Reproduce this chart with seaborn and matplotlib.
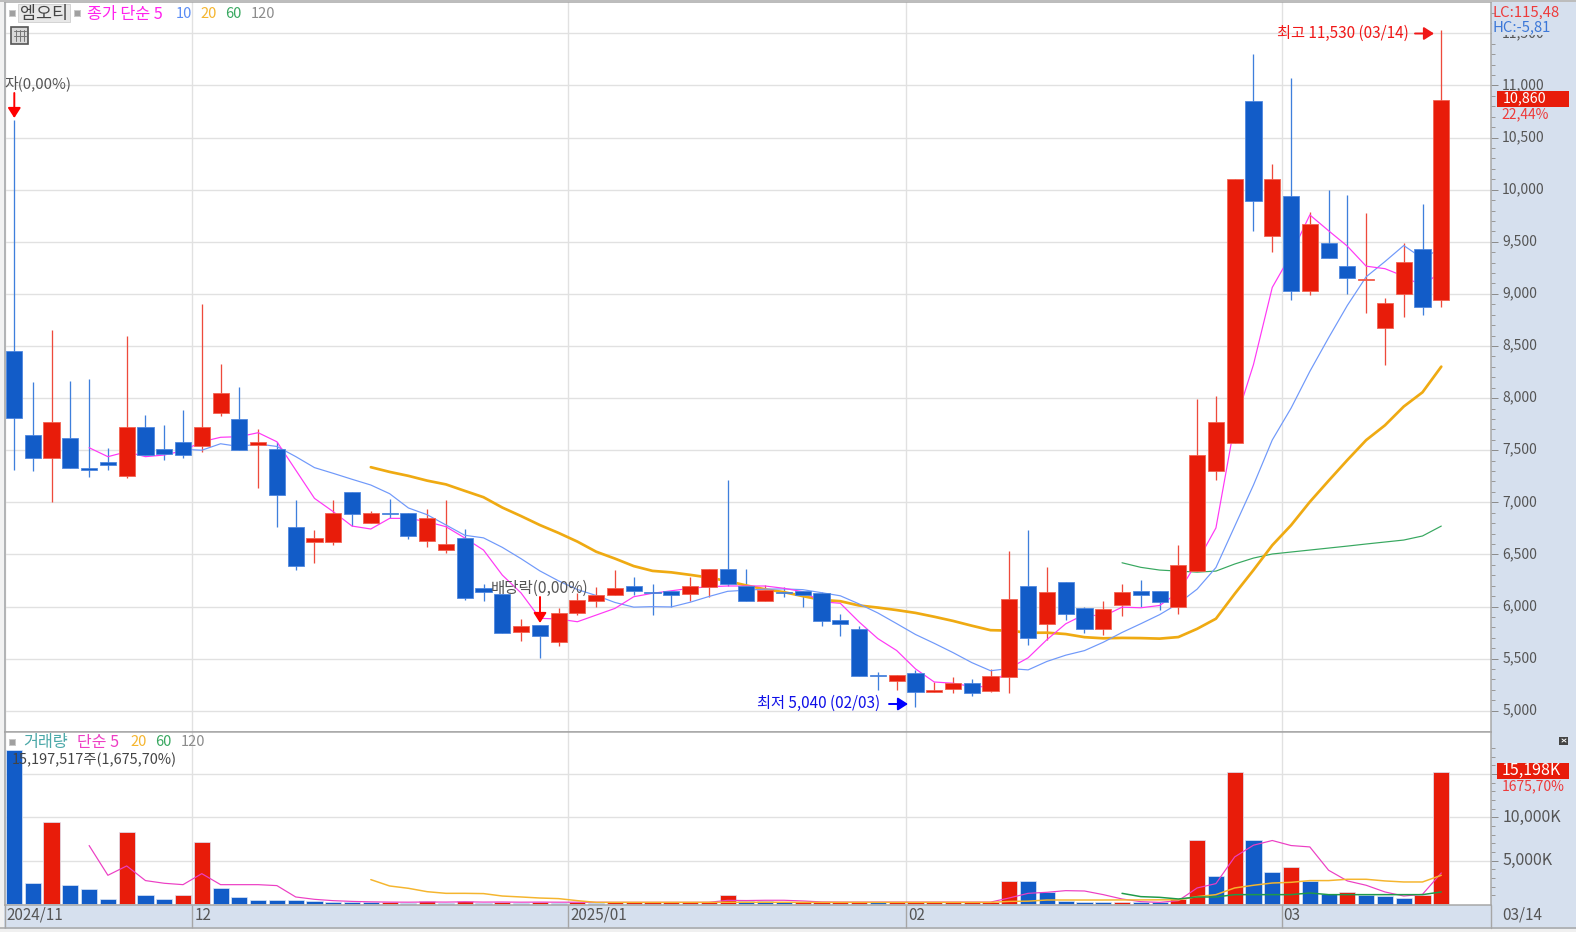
import numpy as np
import seaborn as sns
from matplotlib import pyplot as plt
from matplotlib.patches import Rectangle
from matplotlib.transforms import ScaledTranslation

# daily candles (won)
OPEN = [8450, 7650, 7430, 7620, 7330, 7390, 7250, 7720, 7510, 7580,
        7540, 7860, 7800, 7550, 7510, 6760, 6620, 6620, 7100, 6800,
        6900, 6900, 6630, 6540, 6660, 6180, 6120, 5760, 5820, 5660,
        5940, 6050, 6110, 6200, 6140, 6150, 6120, 6190, 6360, 6200,
        6050, 6140, 6150, 6130, 5870, 5780, 5340, 5290, 5360, 5180,
        5210, 5270, 5190, 5320, 6200, 5830, 6240, 5990, 5780, 6010,
        6150, 6150, 6000, 6340, 7300, 7570, 10850, 9560, 9940, 9030,
        9490, 9270, 9130, 8670, 9000, 9430, 8940]
CLOSE = [7810, 7430, 7770, 7330, 7310, 7360, 7720, 7450, 7460, 7450,
         7720, 8050, 7500, 7580, 7070, 6390, 6660, 6900, 6890, 6900,
         6890, 6680, 6850, 6600, 6080, 6140, 5750, 5810, 5720, 5940,
         6060, 6110, 6180, 6150, 6130, 6110, 6200, 6360, 6220, 6050,
         6160, 6130, 6110, 5860, 5830, 5330, 5330, 5340, 5180, 5200,
         5270, 5170, 5330, 6070, 5700, 6140, 5930, 5780, 5980, 6140,
         6110, 6040, 6400, 7450, 7770, 10100, 9890, 10100, 9030, 9670,
         9340, 9150, 9140, 8910, 9310, 8870, 10860]
HIGH = [10670, 8150, 8650, 8160, 8180, 7520, 8600, 7840, 7740, 7890,
        8900, 8330, 8110, 7700, 7580, 7020, 6730, 7020, 7100, 6920,
        7030, 6900, 6940, 7020, 6740, 6220, 6120, 5880, 5820, 5990,
        6130, 6190, 6350, 6280, 6220, 6150, 6280, 6360, 7210, 6360,
        6210, 6190, 6150, 6140, 5930, 5810, 5370, 5340, 5390, 5280,
        5320, 5300, 5400, 6530, 6730, 6380, 6240, 6000, 6050, 6220,
        6250, 6150, 6590, 7990, 8020, 10100, 11300, 10250, 11070, 9790,
        10000, 9950, 9780, 8960, 9490, 9860, 11530]
LOW = [7310, 7300, 7000, 7330, 7240, 7310, 7230, 7450, 7410, 7430,
       7480, 7830, 7500, 7140, 6760, 6350, 6420, 6590, 6770, 6800,
       6850, 6650, 6570, 6510, 6060, 6050, 5750, 5670, 5510, 5620,
       5920, 6000, 6110, 6110, 5920, 6000, 6050, 6090, 6200, 6050,
       6050, 6090, 6000, 5810, 5720, 5330, 5200, 5200, 5040, 5180,
       5170, 5140, 5180, 5170, 5630, 5680, 5870, 5750, 5730, 5910,
       6000, 5970, 5930, 6340, 7210, 7570, 9600, 9400, 8940, 8990,
       9340, 9000, 8820, 8320, 8780, 8800, 8870]

# price moving averages, first value sits on the day in the *_START name
MA5_START = 4
MA5 = [7524, 7438, 7485, 7438, 7454, 7495, 7581, 7624, 7630, 7668, 7581, 7310,
       7038, 6910, 6772, 6744, 6846, 6846, 6814, 6766, 6658, 6542, 6302, 6130,
       5887, 5880, 5854, 5918, 5982, 6094, 6127, 6151, 6175, 6190, 6197, 6197,
       6197, 6175, 6142, 6046, 6031, 5852, 5692, 5578, 5402, 5276, 5264, 5232,
       5230, 5408, 5508, 5682, 5834, 5924, 5906, 5994, 5988, 6010, 6134, 6428,
       6754, 7752, 8322, 9062, 9378, 9758, 9606, 9458, 9266, 9242, 9170, 9076,
       9218]
MA10_START = 9
MA10 = [7509, 7500, 7562, 7535, 7560, 7536, 7439, 7333, 7278, 7221, 7166, 7083,
        6946, 6881, 6783, 6684, 6659, 6568, 6459, 6342, 6246, 6163, 6106, 6039,
        5994, 5999, 5996, 6041, 6096, 6146, 6157, 6167, 6169, 6162, 6133, 6103,
        6025, 5938, 5836, 5732, 5647, 5558, 5462, 5384, 5405, 5392, 5473, 5533,
        5577, 5657, 5751, 5835, 5922, 6029, 6167, 6374, 6770, 7166, 7598, 7903,
        8256, 8579, 8890, 9164, 9310, 9464, 9341, 9438]
MA20_START = 19
MA20 = [7337, 7292, 7254, 7208, 7172, 7110, 7049, 6950, 6868, 6782, 6706, 6623,
        6526, 6460, 6388, 6342, 6328, 6304, 6278, 6244, 6202, 6165, 6138, 6100,
        6064, 6051, 6010, 5990, 5966, 5939, 5902, 5862, 5816, 5773, 5769, 5748,
        5749, 5736, 5706, 5695, 5699, 5697, 5692, 5707, 5786, 5883, 6122, 6350,
        6588, 6780, 7004, 7207, 7406, 7597, 7739, 7919, 8056, 8302]
MA60_START = 59
MA60 = [6420, 6376, 6350, 6340, 6330, 6340, 6408, 6465, 6504, 6523, 6542, 6561,
        6580, 6600, 6619, 6638, 6677, 6772]

# volume in thousands of shares
VOLUME = [17750, 2460, 9510, 2160, 1730, 580, 8350, 1000, 580, 1000,
          7200, 1850, 850, 424, 415, 405, 290, 270, 230, 200,
          250, 170, 390, 170, 400, 170, 210, 160, 210, 160,
          230, 170, 175, 180, 185, 190, 195, 200, 1040, 350,
          300, 250, 260, 265, 270, 275, 200, 205, 210, 215,
          220, 225, 230, 2700, 2690, 1350, 390, 270, 250, 280,
          260, 240, 580, 7350, 3200, 15200, 7350, 3730, 4310, 2620,
          1120, 1420, 1080, 880, 690, 1000, 15198]
VMA5_START = 4
VMA5 = [6740, 3310, 4390, 2700, 2390, 2230, 3500, 2230, 2230, 2230, 2120, 810,
        540, 385, 300, 250, 220, 210, 230, 220, 250, 220, 230, 210, 220, 210,
        210, 200, 190, 190, 190, 190, 190, 200, 420, 400, 430, 430, 350, 240,
        220, 220, 220, 220, 220, 220, 220, 220, 220, 700, 1230, 1350, 1540, 1500,
        1080, 580, 270, 190, 385, 1850, 2350, 5430, 6780, 7320, 6740, 6580, 3890,
        2660, 2160, 1390, 920, 1120, 3580]
VMA20_START = 19
VMA20 = [2810, 2080, 1810, 1420, 1230, 1230, 1200, 920, 810, 690, 620, 385,
         190, 190, 190, 190, 190, 190, 190, 200, 200, 200, 200, 190, 190, 190,
         190, 190, 190, 190, 190, 190, 190, 190, 300, 330, 460, 460, 460, 460,
         470, 470, 480, 480, 850, 1080, 1850, 2160, 2420, 2500, 2700, 2700, 2850,
         2850, 2660, 2540, 2540, 3310]
VMA60_START = 59
VMA60 = [1230, 850, 770, 580, 810, 810, 1080, 1080, 1080, 1080, 1270, 1080,
         1080, 1080, 1080, 1080, 1080, 1390]

PRICE_TICKS = [5000, 5500, 6000, 6500, 7000, 7500, 8000, 8500, 9000, 9500,
               10000, 10500, 11000, 11500]
VOLUME_TICKS = [5000, 10000, 15000]
MONTH_POS = [-0.5, 9.5, 29.5, 47.5, 67.5]
MONTH_LABELS = ["2024/11", "12", "2025/01", "02", "03"]

W, H = 1576, 932
RED, BLUE = "#E81C0A", "#125CC8"
RED_WICK, BLUE_WICK = "#EE4A3C", "#3E7FDC"
STRIP = "#D6E0EE"
GRID = "#E1E1E1"
TEXT = "#555555"
FRAME = "#A6A6A6"
PX = 0.72  # one pixel in points at dpi 100

sns.set_theme(style="white")
plt.rcParams["font.family"] = ["Noto Sans CJK KR", "DejaVu Sans"]


def pane(top, bottom):
    left, right = 4.5, 1491
    rect = [left / W, 1 - bottom / H, (right - left) / W, (bottom - top) / H]
    ax = fig.add_axes(rect)
    # candle i is centred on 14 + 18.78 * i pixels
    ax.set_xlim((left - 14) / 18.78, (right - 14) / 18.78)
    for spine in ax.spines.values():
        spine.set_color(FRAME)
        spine.set_linewidth(1.5 * PX)
    ax.yaxis.tick_right()
    ax.set_xticks(MONTH_POS)
    ax.grid(True, color=GRID, lw=1.4 * PX, zorder=0)
    ax.set_axisbelow(True)
    return ax


def moving_average(ax, start, values, color, width, zorder):
    days = np.arange(start, start + len(values))
    sns.lineplot(x=days, y=values, color=color, lw=width * PX, ax=ax,
                 zorder=zorder, errorbar=None)


def right_ticks(ax, ticks, labels, minor, size):
    ax.set_yticks(ticks, labels)
    ax.set_yticks(minor, minor=True)
    ax.tick_params(axis="y", which="major", length=7 * PX, width=PX, color="#8C8C8C",
                   labelsize=size, labelcolor=TEXT, pad=3, right=True)
    ax.tick_params(axis="y", which="minor", length=3.5 * PX, width=PX, color="#9A9A9A",
                   right=True)
    # the terminal prints its labels a little above the tick
    lift = ScaledTranslation(0, 2 / 100, fig.dpi_scale_trans)
    for tick_label in ax.get_yticklabels():
        tick_label.set_transform(tick_label.get_transform() + lift)


fig = plt.figure(figsize=(W / 100, H / 100), dpi=100, facecolor=STRIP)

# price pane
ax = pane(2, 732)
ax.set_ylim(4796, 11801)
days = np.arange(len(OPEN))
opens, closes = np.array(OPEN), np.array(CLOSE)
up = closes > opens
ax.vlines(days, LOW, HIGH, colors=np.where(up, RED_WICK, BLUE_WICK), lw=1.3 * PX, zorder=2)
moving_average(ax, MA60_START, MA60, "#38A860", 1.2, 3)
moving_average(ax, MA20_START, MA20, "#EFAA12", 2.7, 3)
moving_average(ax, MA10_START, MA10, "#7099FA", 1.2, 3)
moving_average(ax, MA5_START, MA5, "#FF38F5", 1.2, 3)
ax.bar(days, np.abs(closes - opens), bottom=np.minimum(opens, closes), width=0.86,
       color=np.where(up, RED, BLUE), edgecolor=np.where(up, "#F2604F", "#4C86DE"),
       linewidth=0.8 * PX, zorder=4)
right_ticks(ax, PRICE_TICKS, [f"{t:,}" for t in PRICE_TICKS], np.arange(5000, 11800, 100), 10)
ax.tick_params(axis="x", length=0, labelbottom=False)

# volume pane
vax = pane(732, 905)
vax.set_ylim(-115, 19830)
vol = np.array(VOLUME)
rising = np.r_[False, vol[1:] > vol[:-1]]
sns.barplot(x=days, y=vol, hue=rising, palette={True: RED, False: BLUE}, dodge=False,
            native_scale=True, width=0.86, legend=False, ax=vax, zorder=2, saturation=1,
            edgecolor="#DCE6F6", linewidth=0.7 * PX)
moving_average(vax, VMA5_START, VMA5, "#EC3FC4", 1.2, 3)
moving_average(vax, VMA20_START, VMA20, "#F5B52E", 1.5, 4)
moving_average(vax, VMA60_START, VMA60, "#1F9A4A", 1.5, 5)
vax.set_xlim((4.5 - 14) / 18.78, (1491 - 14) / 18.78)
vax.set_xlabel("")
vax.set_ylabel("")
right_ticks(vax, VOLUME_TICKS, ["5,000K", "10,000K", ""], np.arange(1000, 19000, 1000), 11.5)
vax.set_xticks(MONTH_POS, [""] * len(MONTH_POS))
vax.tick_params(axis="x", direction="out", length=23 * PX, width=1.4 * PX, color=FRAME, bottom=True)
for pos, label_text in zip(MONTH_POS, MONTH_LABELS):
    vax.annotate(label_text, xy=(pos, 0), xycoords=("data", "axes fraction"), xytext=(2, -10),
                 textcoords="offset pixels", ha="left", va="center", fontsize=11, color=TEXT)

# screen furniture in pixel coordinates
ui = fig.add_axes([0, 0, 1, 1], zorder=10)
ui.set_xlim(0, W)
ui.set_ylim(H, 0)
ui.axis("off")
ui.add_patch(Rectangle((0, 0), 4, H, color="#F2F2F2", lw=0))
ui.add_patch(Rectangle((0, 0), W, 2, color="#BDBDBD", lw=0))
ui.add_patch(Rectangle((0, 929), W, 3, color="#F0F0F0", lw=0))
ui.plot([0, W], [928, 928], color=FRAME, lw=1.5 * PX)
ui.plot([1491, 1491], [905, 928], color=FRAME, lw=1.4 * PX)


def label(x, y, text, color=TEXT, size=11, ha="left", **kw):
    # CJK metrics sit high with va=center, hence the extra pixel
    ui.text(x, y + 1, text, color=color, fontsize=size, ha=ha, va="center", **kw)


def arrow(x0, y0, x1, y1, color):
    ui.annotate("", xy=(x1, y1), xytext=(x0, y0),
                arrowprops=dict(arrowstyle="-|>,head_width=0.32,head_length=0.5",
                                color=color, lw=1.4, shrinkA=0, shrinkB=0))


def square(x, y):
    ui.add_patch(Rectangle((x - 3, y - 3), 6, 6, facecolor="#A0A0A0", edgecolor="#C8C8C8", lw=PX))


# price header
square(12, 13)
ui.add_patch(Rectangle((18, 4), 52, 18, facecolor="#E8E8E8", edgecolor="#D4D4D4", lw=PX))
label(44, 12.5, "엠오티", ha="center", color="#444444", size=12.5)
square(77, 13)
label(87, 13, "종가 단순 5", "#FF22EE", size=11.7)
label(176, 13, "10", "#5A8CF5", size=10.5)
label(200, 13, "20", "#F5B52E", size=10.5)
label(225, 13, "60", "#38A860", size=10.5)
label(251, 13, "120", "#8C8C8C", size=10.5)
ui.add_patch(Rectangle((11.5, 26.5), 17, 17, facecolor="#D8D8D8", edgecolor="#555555", lw=1.2))
for gx in [16, 20, 24]:
    ui.plot([gx, gx], [30, 41], color="#777777", lw=PX)
for gy in [31, 36]:
    ui.plot([14, 26], [gy, gy], color="#777777", lw=PX)

# event marks
label(4, 82, "자(0,00%)", "#555555", size=10.8)
arrow(14.3, 93, 14.3, 118, "#FF0000")
label(491, 587, "배당락(0,00%)", "#555555", size=11.2)
arrow(540, 597, 540, 623, "#FF0000")
label(1277, 32.5, "최고 11,530 (03/14)", "#F01818")
arrow(1415, 33.5, 1434, 33.5, "#F01818")
label(757, 702.5, "최저 5,040 (02/03)", "#1010E8")
arrow(889, 704, 908, 704, "#0000FF")

# right strip read-outs
label(1493, 11, "LC:115,48", "#EE3A3A", size=10.7)
label(1493, 26, "HC:-5,81", "#3C78D8", size=10.7,
      bbox=dict(facecolor=STRIP, edgecolor="none", pad=1))
ui.add_patch(Rectangle((1497.5, 90.5), 72, 16, color=RED, lw=0))
label(1503, 97, "10,860", "white", size=10.3)
label(1501, 113, "22,44%", "#EE3A3A", size=10)

# volume header
square(12, 742)
label(23, 741, "거래량", "#4AA8A8", size=11.7)
label(77, 741, "단순 5", "#EE3FC4", size=11.5)
label(130, 741, "20", "#F5B52E", size=10.5)
label(155, 741, "60", "#38A860", size=10.5)
label(181, 741, "120", "#8C8C8C", size=10.5)
label(12, 759, "15,197,517주(1,675,70%)", "#444444", size=10.4)
ui.add_patch(Rectangle((1559.5, 736.5), 9, 8, facecolor="#444444", lw=0))
ui.plot([1562, 1566], [739, 742], color="white", lw=PX)
ui.plot([1562, 1566], [742, 739], color="white", lw=PX)
ui.add_patch(Rectangle((1497.5, 762.5), 72, 16, color=RED, lw=0))
label(1502, 769.5, "15,198K", "white", size=11.5)
label(1502, 785, "1675,70%", "#EE3A3A", size=10)
label(1502, 914.5, "03/14", size=11)

fig.savefig("out.png", dpi=100, facecolor=fig.get_facecolor())
